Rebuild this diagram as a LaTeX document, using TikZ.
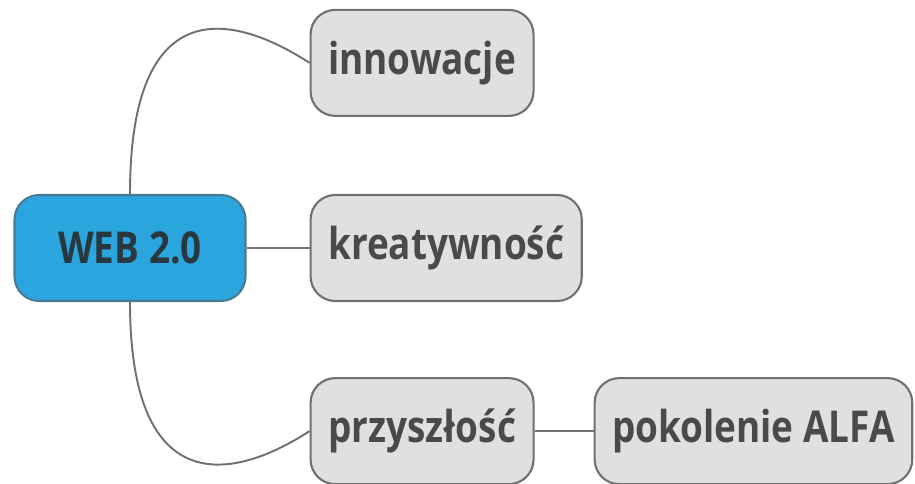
\documentclass[tikz,border=0pt]{standalone}
\usepackage{fontspec}
\setmainfont{Open Sans}[FakeStretch=0.84]
\usepackage{tikz}
\usetikzlibrary{positioning}
\definecolor{niebieski}{HTML}{2AA5DD}
\definecolor{ramkaN}{HTML}{4A7A96}
\definecolor{szary}{HTML}{E0E0E0}
\definecolor{ramka}{HTML}{707070}
\definecolor{tekst}{HTML}{4A4A4A}
\tikzset{
  Temat/.style={draw=ramka, fill=szary, line width=1.2pt, rounded corners=14pt,
    minimum height=2.12cm, inner xsep=10pt, text=tekst,
    font=\bfseries\fontsize{25}{29}\selectfont}, % dla tematów
  Srodek/.style={Temat, draw=ramkaN, fill=niebieski, text=tekst!80!niebieski!60!black,
    minimum width=4.62cm}, % dla węzła głównego
  Linia/.style={draw=ramka, line width=1.1pt} % dla połączeń
}
\begin{document}
\begin{tikzpicture}
\useasboundingbox (0,0) rectangle (18.3,-9.68);

%Węzły
\node[Srodek] (web) at (2.6,-4.96) {WEB 2.0};
\node[Temat, right=1.26cm of web] (krea) {kreatywność};
\node[Temat, above right=1.54cm and 0cm of krea.north west] (inno) {innowacje};
\node[Temat, below right=1.5cm and 0cm of krea.south west] (przy) {przyszłość};
\node[Temat, right=1.18cm of przy] (poko) {pokolenie ALFA};

%Połączenia
\draw[Linia] (web.north) .. controls +(0,3.9) and +(-1.7,1.1) .. (inno.west);
\draw[Linia] (web.east) -- (krea.west);
\draw[Linia] (web.south) .. controls +(0,-3.8) and +(-1.7,-1.1) .. (przy.west);
\draw[Linia] (przy.east) -- (poko.west);

\end{tikzpicture}
\end{document}
